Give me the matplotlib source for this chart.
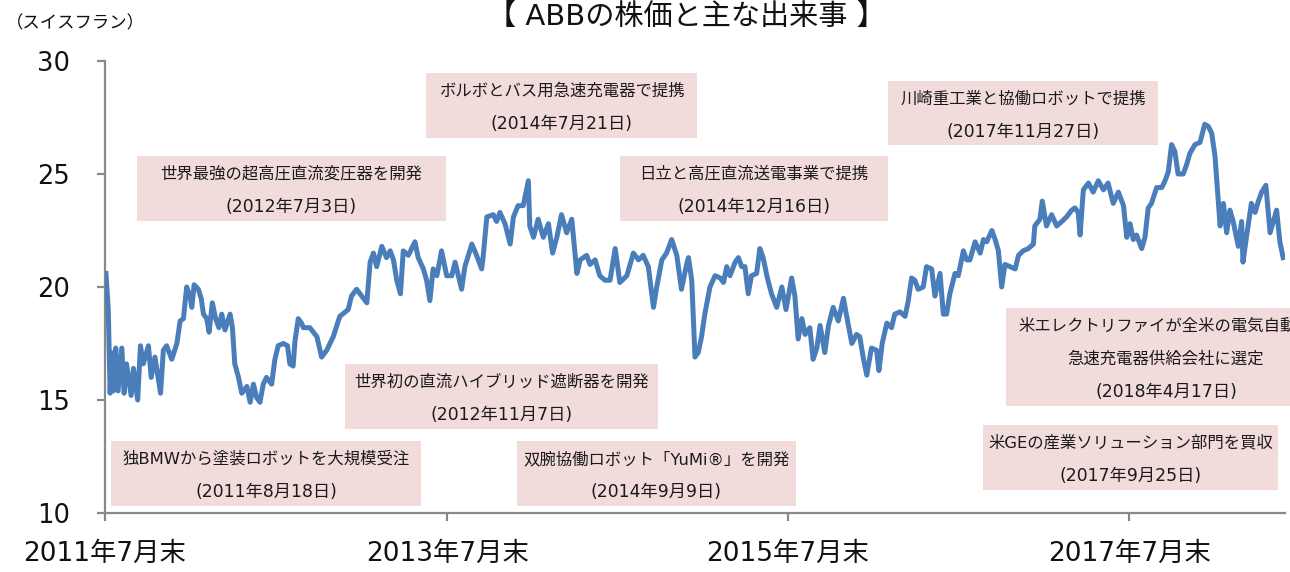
import matplotlib
matplotlib.use('Agg')
import matplotlib.pyplot as plt
import matplotlib.patches as mpatches
import pandas as pd

# latin/digits from DejaVu (Verdana-like), Japanese from Noto CJK
plt.rcParams['font.family'] = ['DejaVu Sans', 'Noto Sans CJK JP']

# ABB share price (CHF); x = days after 2011-07-29
start = pd.Timestamp('2011-07-29')
days = [2, 7, 11, 14, 18, 23, 28, 36, 41, 46, 56, 61, 70, 76, 82, 93, 99, 107, 119, 125,
        132, 143, 154, 161, 168, 175, 182, 186, 191, 200, 206, 211, 218, 223, 230, 237, 244, 250, 257, 268,
        273, 278, 286, 293, 304, 311, 318, 325, 332, 339, 346, 357, 364, 371, 382, 391, 396, 403, 407, 414,
        421, 425, 439, 454, 464, 475, 489, 503, 521, 528, 539, 550, 561, 568, 575, 582, 593, 603, 611, 618,
        625, 633, 639, 650, 664, 671, 682, 689, 696, 703, 711, 721, 732, 743, 750, 764, 771, 786, 796, 807,
        810, 818, 832, 839, 846, 857, 868, 875, 885, 896, 907, 910, 918, 928, 939, 950, 959, 968, 978, 989,
        1000, 1011, 1018, 1032, 1039, 1050, 1060, 1071, 1082, 1093, 1103, 1118, 1132, 1143, 1153, 1164, 1175, 1182, 1193, 1203,
        1214, 1225, 1235, 1246, 1250, 1257, 1264, 1271, 1278, 1285, 1296, 1307, 1318, 1325, 1332, 1339, 1350, 1357, 1364, 1371,
        1378, 1385, 1396, 1403, 1410, 1419, 1428, 1439, 1450, 1459, 1471, 1478, 1485, 1493, 1500, 1510, 1517, 1525, 1532, 1542,
        1550, 1560, 1571, 1582, 1589, 1600, 1610, 1617, 1625, 1632, 1642, 1653, 1658, 1665, 1675, 1685, 1692, 1703, 1714, 1721,
        1728, 1735, 1742, 1753, 1760, 1771, 1778, 1789, 1796, 1803, 1810, 1821, 1828, 1839, 1846, 1853, 1864, 1875, 1882, 1889,
        1900, 1907, 1914, 1921, 1928, 1939, 1950, 1957, 1967, 1978, 1989, 1992, 2003, 2008, 2017, 2028, 2039, 2050, 2060, 2071,
        2078, 2085, 2089, 2096, 2107, 2117, 2128, 2139, 2149, 2160, 2171, 2182, 2189, 2196, 2203, 2210, 2221, 2228, 2235, 2242,
        2253, 2264, 2271, 2278, 2285, 2292, 2299, 2310, 2317, 2324, 2335, 2346, 2356, 2364, 2371, 2378, 2383, 2389, 2396, 2403,
        2410, 2417, 2428, 2435, 2438, 2446, 2456, 2464, 2471, 2478, 2487, 2496, 2503, 2510, 2517, 2524]
price = [20.6, 19.0, 15.3, 17.1, 15.4, 17.3, 15.4, 17.3, 15.3, 16.6, 15.2, 16.4, 15.0, 17.4, 16.6, 17.4, 16.0, 16.9, 15.3, 17.2,
         17.4, 16.8, 17.5, 18.5, 18.6, 20.0, 19.6, 19.1, 20.1, 19.9, 19.5, 18.8, 18.6, 18.0, 19.3, 18.6, 18.2, 18.8, 18.1, 18.8,
         18.2, 16.6, 16.0, 15.3, 15.6, 14.9, 15.7, 15.1, 14.9, 15.7, 16.0, 15.7, 16.8, 17.4, 17.5, 17.4, 16.6, 16.5, 17.6, 18.6,
         18.4, 18.2, 18.2, 17.8, 16.9, 17.2, 17.8, 18.7, 19.0, 19.6, 19.9, 19.6, 19.3, 21.1, 21.5, 20.9, 21.8, 21.3, 21.6, 21.2,
         20.3, 19.7, 21.6, 21.4, 22.0, 21.3, 20.8, 20.3, 19.4, 20.8, 20.5, 21.6, 20.5, 20.5, 21.1, 19.9, 20.9, 21.9, 21.4, 20.8,
         21.3, 23.1, 23.2, 22.9, 23.3, 22.8, 21.9, 23.1, 23.6, 23.6, 24.7, 22.7, 22.2, 23.0, 22.2, 22.8, 21.5, 22.2, 23.2, 22.4,
         23.0, 20.6, 21.2, 21.4, 21.0, 21.2, 20.5, 20.3, 20.3, 21.7, 20.2, 20.5, 21.5, 21.2, 21.4, 20.9, 19.1, 20.0, 21.2, 21.5,
         22.1, 21.4, 19.9, 21.0, 21.3, 20.3, 16.9, 17.1, 17.8, 18.8, 20.0, 20.5, 20.4, 20.2, 20.9, 20.5, 21.1, 21.3, 20.9, 20.9,
         19.7, 20.5, 20.6, 21.7, 21.3, 20.4, 19.7, 19.1, 20.0, 19.0, 20.4, 19.6, 17.7, 18.6, 17.9, 18.2, 16.8, 17.3, 18.3, 17.1,
         18.3, 19.1, 18.5, 19.5, 18.7, 17.5, 17.9, 17.8, 16.8, 16.1, 17.3, 17.2, 16.3, 17.5, 18.4, 18.2, 18.8, 18.9, 18.7, 19.4,
         20.4, 20.3, 19.9, 20.0, 20.9, 20.8, 19.6, 20.6, 18.8, 18.8, 19.7, 20.6, 20.5, 21.6, 21.2, 21.2, 22.0, 21.5, 22.1, 22.0,
         22.5, 22.1, 21.6, 20.0, 21.0, 20.9, 20.8, 21.4, 21.6, 21.7, 21.9, 22.7, 23.0, 23.8, 22.7, 23.2, 22.7, 22.9, 23.1, 23.4,
         23.5, 23.3, 22.3, 24.3, 24.6, 24.2, 24.7, 24.3, 24.6, 23.7, 24.2, 23.6, 22.2, 22.8, 22.1, 22.3, 21.7, 22.2, 23.5, 23.7,
         24.4, 24.4, 24.7, 25.1, 26.3, 26.0, 25.0, 25.0, 25.4, 25.9, 26.3, 26.4, 27.2, 27.1, 26.8, 25.8, 24.4, 22.7, 23.7, 22.4,
         23.4, 22.9, 21.8, 22.9, 21.1, 22.3, 23.7, 23.3, 23.8, 24.2, 24.5, 22.4, 22.9, 23.4, 22.0, 21.3]

tick_dates = ['2011-07-29', '2013-07-31', '2015-07-31', '2017-07-31']
tick_labels = ['2011年7月末', '2013年7月末', '2015年7月末', '2017年7月末']
y_ticks = [10, 15, 20, 25, 30]

event_text = [
    ['ボルボとバス用急速充電器で提携', '(2014年7月21日)'],
    ['川崎重工業と協働ロボットで提携', '(2017年11月27日)'],
    ['世界最強の超高圧直流変圧器を開発', '(2012年7月3日)'],
    ['日立と高圧直流送電事業で提携', '(2014年12月16日)'],
    ['世界初の直流ハイブリッド遮断器を開発', '(2012年11月7日)'],
    ['米エレクトリファイが全米の電気自動車', '急速充電器供給会社に選定', '(2018年4月17日)'],
    ['独BMWから塗装ロボットを大規模受注', '(2011年8月18日)'],
    ['双腕協働ロボット「YuMi®」を開発', '(2014年9月9日)'],
    ['米GEの産業ソリューション部門を買収', '(2017年9月25日)'],
]
# box extents in pixels: left, top, right, bottom
event_box = [
    (426, 73, 697, 138),
    (888, 81, 1158, 145),
    (137, 156, 446, 221),
    (620, 156, 888, 221),
    (345, 364, 658, 429),
    (1006, 308, 1326, 406),
    (111, 441, 421, 506),
    (517, 441, 796, 506),
    (983, 425, 1278, 490),
]

W, H = 1290, 572
fig = plt.figure(figsize=(W / 100, H / 100), dpi=100)
ax = fig.add_axes([105 / W, 1 - 513 / H, 1180 / W, 452 / H])

dates = start + pd.to_timedelta(days, unit='D')
ax.plot(dates, price, color='#4A7EBB', lw=3.6, solid_joinstyle='round', zorder=3)

ax.set_ylim(10, 30)
ax.set_xlim(start, start + pd.Timedelta(days=2528))
ax.set_yticks(y_ticks)
ax.set_xticks(pd.to_datetime(tick_dates))
ax.set_xticklabels(tick_labels)

for s in ['top', 'right']:
    ax.spines[s].set_visible(False)
for s in ['left', 'bottom']:
    ax.spines[s].set_color('#898989')
    ax.spines[s].set_linewidth(1.6)
ax.tick_params(axis='y', direction='out', length=6, width=1.6, color='#898989',
               labelsize=18.5, pad=19, labelcolor='#111111')
ax.tick_params(axis='x', direction='out', length=6, width=1.6, color='#898989',
               labelsize=19, pad=14, labelcolor='#111111')
ax.patch.set_alpha(0)

fig.text(686 / W, 1 - 17 / H, '【 ABBの株価と主な出来事 】', fontsize=21,
         ha='center', va='center', color='#111111')
fig.text(6 / W, 1 - 23 / H, '（スイスフラン）', fontsize=12.5,
         ha='left', va='center', color='#111111')

for lines, (l, t, r, b) in zip(event_text, event_box):
    rect = mpatches.Rectangle((l / W, 1 - b / H), (r - l) / W, (b - t) / H,
                              transform=fig.transFigure, facecolor='#F2DCDB',
                              edgecolor='none', zorder=1)
    fig.add_artist(rect)
    cx = (l + r) / 2
    for i, s in enumerate(lines):
        # the date line sits a touch larger, as in the source
        fs = 12.4 if s.startswith('(') else 11.8
        fig.text(cx / W, 1 - (t + 18 + 33 * i) / H, s, fontsize=fs,
                 ha='center', va='center', color='#1a1a1a', zorder=2)

fig.savefig('out.png', dpi=100)
